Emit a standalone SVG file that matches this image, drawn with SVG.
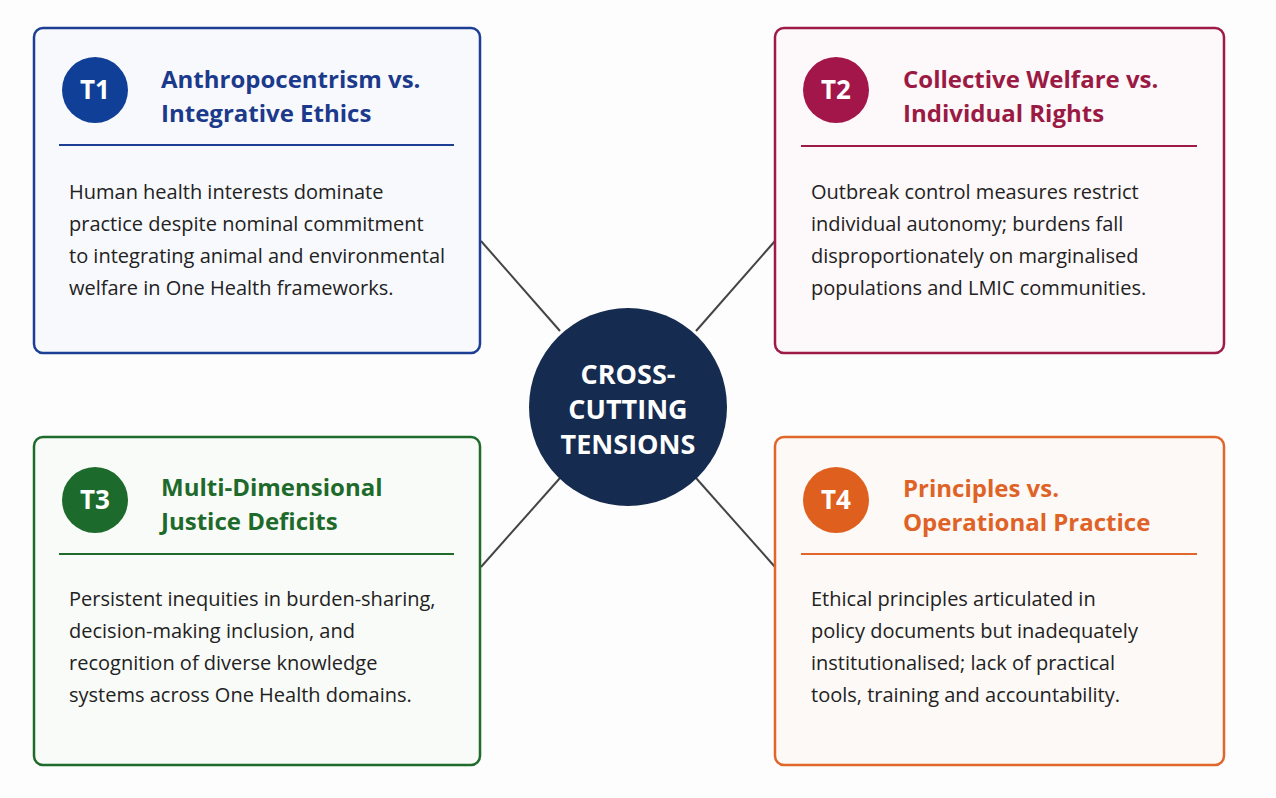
<svg xmlns="http://www.w3.org/2000/svg" width="1276" height="798" viewBox="0 0 1276 798">
<style>
.box{stroke-width:2.5;}
.title{font-family:"Open Sans","Noto Sans",sans-serif;font-weight:700;font-size:24px;}
.body{font-family:"Open Sans","Noto Sans",sans-serif;font-size:20px;fill:#222;}
.badge{font-family:"Open Sans","Noto Sans",sans-serif;font-weight:700;font-size:26px;fill:#fff;text-anchor:middle;}
.conn{stroke:#444;stroke-width:2;}
.center{font-family:"Open Sans","Noto Sans",sans-serif;font-weight:700;font-size:27px;fill:#fff;text-anchor:middle;}
</style>
<rect width="1276" height="798" fill="#fdfdfd"/>
<g id="connectors">
<line class="conn" x1="481" y1="241" x2="560" y2="331"/>
<line class="conn" x1="775" y1="241" x2="696" y2="331"/>
<line class="conn" x1="481" y1="567" x2="560" y2="478"/>
<line class="conn" x1="775" y1="567" x2="696" y2="478"/>
</g>
<g id="t1">
<rect class="box" x="34" y="28" width="446" height="325" rx="9" fill="#f8f9fc" stroke="#1c3f94"/>
<circle cx="95" cy="90" r="33" fill="#0f3f96"/>
<text class="badge" x="95" y="99">T1</text>
<text class="title" fill="#1c3a8c"><tspan x="161" y="88">Anthropocentrism vs.</tspan><tspan x="161" y="122">Integrative Ethics</tspan></text>
<line x1="59" y1="145" x2="454" y2="145" stroke="#1c3f94" stroke-width="2"/>
<text class="body"><tspan x="69" y="199">Human health interests dominate</tspan><tspan x="69" y="231">practice despite nominal commitment</tspan><tspan x="69" y="263">to integrating animal and environmental</tspan><tspan x="69" y="295">welfare in One Health frameworks.</tspan></text>
</g>
<g id="t2">
<rect class="box" x="775" y="28" width="449" height="325" rx="9" fill="#fdf8f9" stroke="#9e1b47"/>
<circle cx="836" cy="90" r="33" fill="#a3164a"/>
<text class="badge" x="836" y="99">T2</text>
<text class="title" fill="#9a1a44"><tspan x="903" y="88">Collective Welfare vs.</tspan><tspan x="903" y="122">Individual Rights</tspan></text>
<line x1="801" y1="146" x2="1197" y2="146" stroke="#9e1b47" stroke-width="2"/>
<text class="body"><tspan x="811" y="199">Outbreak control measures restrict</tspan><tspan x="811" y="231">individual autonomy; burdens fall</tspan><tspan x="811" y="263">disproportionately on marginalised</tspan><tspan x="811" y="295">populations and LMIC communities.</tspan></text>
</g>
<g id="t3">
<rect class="box" x="34" y="437" width="446" height="328" rx="9" fill="#f9fbf8" stroke="#1f6b2c"/>
<circle cx="95" cy="500" r="33" fill="#1d6b2c"/>
<text class="badge" x="95" y="509">T3</text>
<text class="title" fill="#1e6a2b"><tspan x="161" y="496">Multi-Dimensional</tspan><tspan x="161" y="530">Justice Deficits</tspan></text>
<line x1="59" y1="554" x2="454" y2="554" stroke="#1f6b2c" stroke-width="2"/>
<text class="body"><tspan x="69" y="606">Persistent inequities in burden-sharing,</tspan><tspan x="69" y="638">decision-making inclusion, and</tspan><tspan x="69" y="670">recognition of diverse knowledge</tspan><tspan x="69" y="702">systems across One Health domains.</tspan></text>
</g>
<g id="t4">
<rect class="box" x="775" y="437" width="449" height="328" rx="9" fill="#fdf9f6" stroke="#e0662a"/>
<circle cx="836" cy="500" r="33" fill="#df5f1f"/>
<text class="badge" x="836" y="509">T4</text>
<text class="title" fill="#df6226"><tspan x="903" y="497">Principles vs.</tspan><tspan x="903" y="531">Operational Practice</tspan></text>
<line x1="801" y1="554" x2="1197" y2="554" stroke="#e0662a" stroke-width="2"/>
<text class="body"><tspan x="811" y="606">Ethical principles articulated in</tspan><tspan x="811" y="638">policy documents but inadequately</tspan><tspan x="811" y="670">institutionalised; lack of practical</tspan><tspan x="811" y="702">tools, training and accountability.</tspan></text>
</g>
<g id="center">
<circle cx="628" cy="407" r="99" fill="#152b4f"/>
<text class="center"><tspan x="628" y="384">CROSS-</tspan><tspan x="628" y="419">CUTTING</tspan><tspan x="628" y="454">TENSIONS</tspan></text>
</g>
</svg>
